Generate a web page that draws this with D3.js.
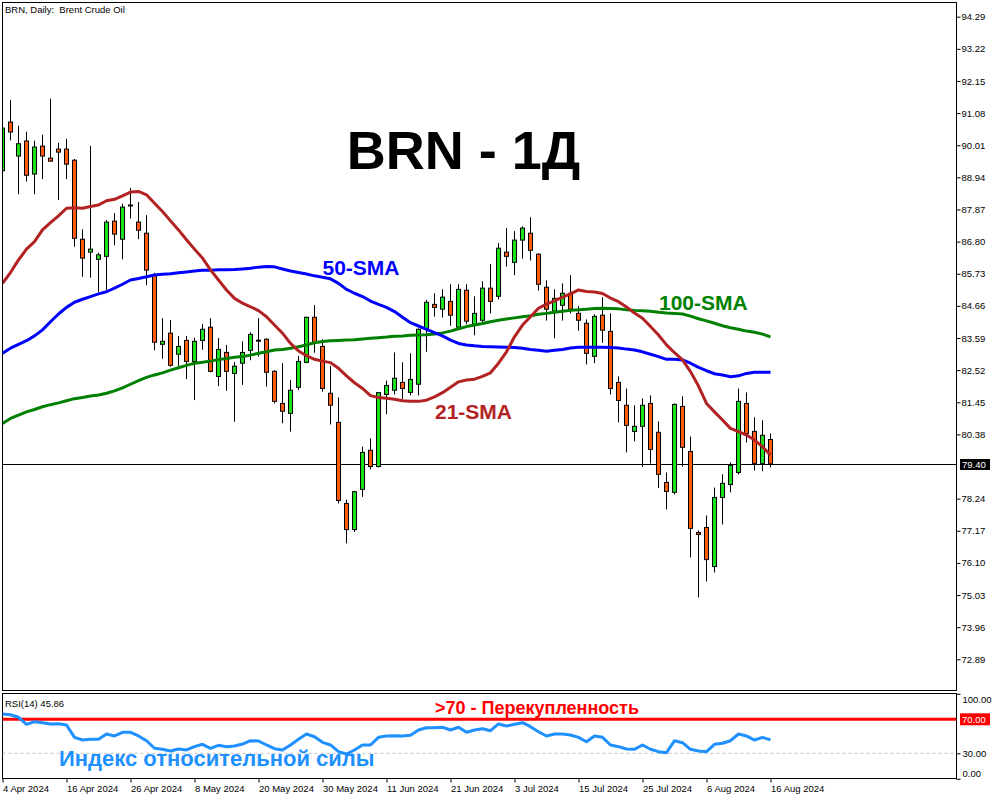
<!DOCTYPE html>
<html>
<head>
<meta charset="utf-8">
<script src="https://cdn.jsdelivr.net/npm/d3@7"></script>
<style>
  html, body { margin: 0; padding: 0; background: #fff; }
  svg { display: block; }
  text { font-family: "Liberation Sans", Arial, sans-serif; }
</style>
</head>
<body>
<svg id="chart" width="1000" height="800"></svg>
<script>
// ---- Daily Brent bars, 4 Apr 2024 .. 16 Aug 2024 (one entry per trading day) ----
const open = [
  89.16, 90.78, 89.65, 90.15, 89.05, 89.98, 89.58, 89.88, 89.88, 89.51,
  86.88, 86.45, 86.21, 86.31, 87.48, 86.88, 88.00, 87.45, 87.08, 85.68,
  83.38, 83.75, 83.05, 83.51, 82.81, 83.51, 83.95, 82.31, 83.11, 82.41,
  82.75, 83.18, 83.50, 83.55, 82.48, 81.41, 81.08, 81.95, 82.78, 84.28,
  83.31, 81.75, 80.78, 78.08, 77.21, 78.55, 79.85, 79.31, 81.71, 81.85,
  82.11, 81.78, 82.05, 83.91, 84.71, 84.55, 84.81, 83.95, 85.18, 84.01,
  84.18, 85.25, 84.98, 86.45, 86.11, 86.85, 87.08, 86.38, 85.28, 84.48,
  84.68, 85.08, 84.41, 84.08, 82.98, 84.35, 83.81, 82.11, 81.35, 80.48,
  80.65, 81.41, 80.45, 78.78, 78.45, 81.31, 79.81, 77.11, 77.28, 75.98,
  78.28, 78.71, 79.11, 81.41, 80.48, 79.41, 80.21
];
const high = [
  90.85, 91.52, 90.66, 90.46, 90.16, 90.36, 91.56, 90.09, 90.22, 89.55,
  87.21, 89.99, 86.43, 87.52, 87.75, 88.06, 88.58, 88.12, 87.68, 85.76,
  84.25, 84.19, 83.66, 83.66, 83.60, 84.06, 84.25, 83.59, 83.36, 82.79,
  83.48, 83.78, 84.25, 83.58, 82.52, 82.75, 82.19, 82.99, 84.30, 84.69,
  83.55, 82.66, 81.61, 78.21, 78.50, 79.97, 80.25, 81.78, 82.17, 83.11,
  82.78, 83.08, 83.91, 84.86, 85.08, 85.21, 85.38, 85.38, 85.38, 84.98,
  85.48, 86.05, 86.75, 87.25, 87.15, 87.31, 87.61, 86.41, 85.51, 85.21,
  85.41, 85.68, 84.65, 84.21, 84.38, 84.95, 84.41, 82.31, 81.91, 81.35,
  81.58, 81.68, 80.81, 79.11, 81.41, 81.65, 80.31, 77.18, 77.68, 78.61,
  79.05, 79.45, 81.91, 81.78, 80.95, 80.85, 80.41
];
const low = [
  88.95, 90.17, 88.38, 88.80, 88.38, 88.88, 89.48, 88.18, 88.88, 86.63,
  85.63, 85.60, 85.12, 85.19, 86.68, 86.21, 87.57, 86.88, 85.35, 83.18,
  82.90, 82.63, 82.66, 82.22, 81.52, 83.20, 82.45, 81.99, 81.83, 80.80,
  82.03, 82.85, 82.97, 81.97, 81.41, 80.75, 80.47, 81.86, 82.75, 83.10,
  81.80, 80.71, 78.08, 76.75, 77.13, 78.30, 79.21, 79.28, 81.05, 81.71,
  81.55, 81.68, 81.68, 83.13, 84.30, 84.27, 84.00, 83.91, 84.05, 83.68,
  84.08, 84.41, 84.88, 85.97, 85.68, 86.23, 86.17, 85.17, 84.17, 83.58,
  84.17, 84.41, 83.83, 82.71, 82.75, 83.43, 81.71, 80.78, 79.78, 80.15,
  79.30, 79.41, 78.59, 77.88, 78.38, 79.31, 76.28, 74.95, 75.48, 75.78,
  77.38, 78.45, 79.05, 80.11, 79.18, 79.15, 79.28
];
const close = [
  90.58, 90.45, 90.06, 89.01, 89.95, 89.65, 89.48, 89.78, 89.38, 86.91,
  86.25, 86.55, 86.36, 87.45, 87.05, 87.95, 88.00, 87.18, 85.85, 83.45,
  83.48, 82.68, 83.31, 82.81, 83.48, 83.88, 82.48, 83.21, 82.48, 82.65,
  83.11, 83.71, 83.50, 82.45, 81.48, 81.15, 81.85, 82.81, 84.28, 83.41,
  81.91, 81.35, 78.18, 77.21, 78.47, 79.78, 79.31, 81.77, 82.01, 82.25,
  81.91, 82.21, 83.88, 84.78, 84.61, 84.95, 84.35, 85.21, 84.15, 84.41,
  85.25, 84.81, 86.58, 86.31, 86.85, 87.25, 86.51, 85.38, 84.55, 84.91,
  85.08, 84.55, 84.18, 83.08, 84.31, 83.85, 81.91, 81.51, 80.68, 80.65,
  81.35, 79.88, 79.05, 78.48, 81.38, 79.95, 77.25, 77.05, 76.21, 78.28,
  78.75, 79.35, 81.48, 80.41, 79.41, 80.35, 79.40
];

// ---- Moving averages on the same bars ----
const sma21 = [
  85.41, 85.77, 86.19, 86.55, 86.80, 87.19, 87.43, 87.66, 87.91, 87.93,
  87.91, 87.97, 88.02, 88.16, 88.21, 88.32, 88.45, 88.47, 88.36, 88.08,
  87.80, 87.49, 87.19, 86.86, 86.55, 86.25, 85.86, 85.52, 85.19, 84.91,
  84.75, 84.63, 84.50, 84.30, 84.02, 83.75, 83.41, 83.16, 83.00, 82.88,
  82.82, 82.77, 82.58, 82.33, 82.10, 81.91, 81.67, 81.61, 81.58, 81.55,
  81.50, 81.48, 81.48, 81.52, 81.63, 81.77, 81.95, 82.13, 82.19, 82.22,
  82.31, 82.43, 82.75, 83.13, 83.63, 84.02, 84.30, 84.58, 84.72, 84.83,
  84.95, 85.06, 85.19, 85.14, 85.12, 85.07, 84.92, 84.80, 84.62, 84.42,
  84.25, 83.97, 83.69, 83.36, 83.10, 82.86, 82.47, 81.99, 81.41, 81.13,
  80.86, 80.58, 80.47, 80.36, 80.19, 79.97, 79.69
];
const sma50 = [
  83.08, 83.25, 83.38, 83.50, 83.66, 83.86, 84.13, 84.39, 84.61, 84.78,
  84.88, 84.97, 85.06, 85.13, 85.25, 85.38, 85.52, 85.57, 85.63, 85.69,
  85.71, 85.73, 85.76, 85.79, 85.82, 85.85, 85.85, 85.86, 85.86, 85.87,
  85.89, 85.91, 85.95, 85.97, 85.96, 85.89, 85.82, 85.77, 85.72, 85.66,
  85.61, 85.56, 85.41, 85.21, 85.08, 84.97, 84.82, 84.71, 84.61, 84.47,
  84.28, 84.10, 83.99, 83.88, 83.77, 83.66, 83.52, 83.41, 83.36, 83.33,
  83.31, 83.30, 83.29, 83.28, 83.27, 83.25, 83.21, 83.18, 83.15, 83.18,
  83.21, 83.26, 83.28, 83.28, 83.28, 83.28, 83.27, 83.26, 83.22, 83.19,
  83.13, 83.05, 82.97, 82.88, 82.88, 82.86, 82.75, 82.61, 82.50, 82.40,
  82.36, 82.30, 82.33, 82.41, 82.45, 82.45, 82.45
];
const sma100 = [
  80.74, 80.91, 81.02, 81.13, 81.21, 81.30, 81.37, 81.43, 81.50, 81.57,
  81.61, 81.66, 81.69, 81.75, 81.83, 81.93, 82.05, 82.17, 82.28, 82.36,
  82.43, 82.52, 82.60, 82.68, 82.75, 82.78, 82.82, 82.87, 82.91, 82.95,
  82.97, 83.02, 83.08, 83.13, 83.19, 83.21, 83.25, 83.30, 83.36, 83.43,
  83.47, 83.50, 83.51, 83.52, 83.53, 83.56, 83.58, 83.60, 83.62, 83.65,
  83.66, 83.68, 83.69, 83.70, 83.72, 83.76, 83.82, 83.90, 83.97, 84.02,
  84.07, 84.13, 84.18, 84.22, 84.26, 84.30, 84.33, 84.38, 84.41, 84.45,
  84.48, 84.51, 84.53, 84.55, 84.57, 84.58, 84.57, 84.56, 84.53, 84.51,
  84.50, 84.48, 84.45, 84.42, 84.41, 84.39, 84.32, 84.23, 84.16, 84.08,
  84.00, 83.93, 83.88, 83.82, 83.78, 83.72, 83.63
];

// ---- RSI(14) ----
const rsi14 = [
  76.2, 75.4, 72.4, 64.1, 67.2, 66.0, 64.5, 64.8, 63.3, 48.8,
  45.6, 46.5, 46.5, 52.7, 50.4, 54.7, 54.7, 50.4, 44.8, 35.9,
  34.7, 32.7, 35.1, 33.9, 37.8, 40.6, 35.9, 39.4, 37.8, 38.6,
  40.9, 44.8, 44.5, 39.8, 35.4, 33.9, 39.8, 46.5, 52.7, 49.5,
  42.9, 39.8, 31.9, 29.2, 33.9, 39.8, 39.8, 48.8, 50.4, 50.7,
  50.4, 51.2, 57.4, 60.1, 60.1, 60.6, 57.4, 60.6, 54.7, 57.4,
  58.9, 56.6, 64.5, 62.1, 64.1, 66.0, 61.3, 55.4, 50.4, 52.7,
  52.7, 51.5, 48.8, 43.6, 50.4, 48.8, 39.8, 37.8, 35.1, 34.7,
  39.8, 34.7, 31.9, 30.7, 44.8, 42.5, 34.7, 32.7, 31.9, 40.6,
  41.8, 44.8, 52.7, 50.4, 45.6, 48.8, 45.86
];
const rsiOverbought = 70;
const rsiOversold = 30;
const rsiTicks = [100, 30, 0];

// ---- Axis labels ----
const priceTicks = [94.29, 93.22, 92.15, 91.08, 90.01, 88.94, 87.87, 86.80, 85.73, 84.66,
                    83.59, 82.52, 81.45, 80.38, 78.24, 77.17, 76.10, 75.03, 73.96, 72.89];
const dateBars = [0, 8, 16, 24, 32, 40, 48, 56, 64, 72, 80, 88, 96];
const dateLabels = ["4 Apr 2024", "16 Apr 2024", "26 Apr 2024", "8 May 2024", "20 May 2024",
                    "30 May 2024", "11 Jun 2024", "21 Jun 2024", "3 Jul 2024", "15 Jul 2024",
                    "25 Jul 2024", "6 Aug 2024", "16 Aug 2024"];
const lastPrice = close[close.length - 1];

// ---- Layout ----
const L = 2.5, R = 956.5;
const mainTop = 2.5, mainBottom = 690.5;
const rsiTop = 693.5, rsiBottom = 778.5;
const UP = "#1ee01e", DOWN = "#ff5a0f";
const FS = "9.5px";

const svg = d3.select("#chart");

const x = d3.scaleLinear().domain([0, close.length - 1]).range([2.5, 2.5 + 8 * (close.length - 1)]);
const y = d3.scaleLinear().domain([72.89, 94.29]).range([659.3, 16.7]);
const yr = d3.scaleLinear().domain([0, 100]).range([778.8, 693.8]);

const defs = svg.append("defs");
defs.append("clipPath").attr("id", "clipMain")
  .append("rect").attr("x", L).attr("y", mainTop).attr("width", R - L).attr("height", mainBottom - mainTop);
defs.append("clipPath").attr("id", "clipRsi")
  .append("rect").attr("x", L).attr("y", rsiTop).attr("width", R - L).attr("height", rsiBottom - rsiTop);

// ---- Main price panel ----
const main = svg.append("g").attr("clip-path", "url(#clipMain)");

// last-price line
main.append("line")
  .attr("x1", L).attr("x2", R)
  .attr("y1", Math.round(y(lastPrice)) + 0.5).attr("y2", Math.round(y(lastPrice)) + 0.5)
  .attr("stroke", "#000").attr("stroke-width", 1);

const bars = d3.range(close.length);
const candles = main.append("g");
candles.selectAll("line.wick").data(bars).join("line")
  .attr("class", "wick")
  .attr("x1", i => x(i)).attr("x2", i => x(i))
  .attr("y1", i => y(high[i])).attr("y2", i => y(low[i]))
  .attr("stroke", "#000").attr("stroke-width", 1);

candles.selectAll("rect.body").data(bars.filter(i => open[i] !== close[i])).join("rect")
  .attr("class", "body")
  .attr("x", i => x(i) - 2).attr("width", 4)
  .attr("y", i => y(Math.max(open[i], close[i])))
  .attr("height", i => Math.max(1, Math.abs(y(open[i]) - y(close[i]))))
  .attr("fill", i => close[i] > open[i] ? UP : DOWN)
  .attr("stroke", "#000").attr("stroke-width", 1);

candles.selectAll("line.doji").data(bars.filter(i => open[i] === close[i])).join("line")
  .attr("class", "doji")
  .attr("x1", i => x(i) - 2.5).attr("x2", i => x(i) + 2.5)
  .attr("y1", i => y(close[i])).attr("y2", i => y(close[i]))
  .attr("stroke", "#000").attr("stroke-width", 2);

const maLine = arr => d3.line().x((d, i) => x(i)).y(d => y(d))(arr);
[[sma100, "#008000"], [sma50, "#0000ff"], [sma21, "#b22222"]].forEach(([arr, col]) => {
  main.append("path").attr("d", maLine(arr))
    .attr("fill", "none").attr("stroke", col).attr("stroke-width", 3)
    .attr("stroke-linejoin", "round");
});

// ---- Frames ----
svg.append("rect").attr("x", L).attr("y", mainTop).attr("width", R - L).attr("height", mainBottom - mainTop)
  .attr("fill", "none").attr("stroke", "#000").attr("stroke-width", 1);
svg.append("rect").attr("x", L).attr("y", rsiTop).attr("width", R - L).attr("height", rsiBottom - rsiTop)
  .attr("fill", "none").attr("stroke", "#000").attr("stroke-width", 1);

// ---- Price axis ----
const yAxis = svg.append("g").attr("transform", `translate(${R},0)`)
  .call(d3.axisRight(y).tickValues(priceTicks).tickSize(4).tickPadding(1).tickFormat(d3.format(".2f")));
yAxis.select(".domain").remove();
yAxis.selectAll("text").attr("font-size", FS).attr("font-family", "Liberation Sans, Arial, sans-serif").attr("fill", "#000");
yAxis.selectAll("line").attr("stroke", "#000");

// last-price tag
const lpY = Math.round(y(lastPrice)) + 0.5;
svg.append("rect").attr("x", 960).attr("y", lpY - 5.5).attr("width", 30).attr("height", 11).attr("fill", "#000");
svg.append("text").attr("x", 962).attr("y", lpY + 3.5)
  .attr("font-size", FS).attr("fill", "#fff").text(d3.format(".2f")(lastPrice));

// ---- RSI panel ----
const rsiG = svg.append("g").attr("clip-path", "url(#clipRsi)");
rsiG.append("line").attr("x1", L).attr("x2", R)
  .attr("y1", yr(rsiOversold)).attr("y2", yr(rsiOversold))
  .attr("stroke", "#c0c0c0").attr("stroke-width", 1).attr("stroke-dasharray", "3,3");
rsiG.append("line").attr("x1", L).attr("x2", R)
  .attr("y1", yr(rsiOverbought)).attr("y2", yr(rsiOverbought))
  .attr("stroke", "#ff0000").attr("stroke-width", 3);
rsiG.append("path")
  .attr("d", d3.line().x((d, i) => x(i)).y(d => yr(d))(rsi14))
  .attr("fill", "none").attr("stroke", "#1e90ff").attr("stroke-width", 3)
  .attr("stroke-linejoin", "round");

const rAxis = svg.append("g").attr("transform", `translate(${R},0)`)
  .call(d3.axisRight(yr).tickValues(rsiTicks).tickSize(4).tickPadding(2).tickFormat(d3.format(".2f")));
rAxis.select(".domain").remove();
rAxis.selectAll("line").attr("stroke", "#000");
rAxis.selectAll("text").attr("font-size", FS).attr("fill", "#000")
  .attr("dy", d => d === 100 ? "0.95em" : d === 0 ? "-0.25em" : "0.32em");

// overbought tag
svg.append("rect").attr("x", 960).attr("y", yr(rsiOverbought) - 6).attr("width", 30).attr("height", 12).attr("fill", "#ff0000");
svg.append("text").attr("x", 962).attr("y", yr(rsiOverbought) + 3.5)
  .attr("font-size", FS).attr("fill", "#fff").text(d3.format(".2f")(rsiOverbought));

svg.append("text").attr("x", 5).attr("y", 706.5).attr("font-size", FS).attr("fill", "#000")
  .text(`RSI(14) ${d3.format(".2f")(rsi14[rsi14.length - 1])}`);

// ---- Date axis ----
const xAxis = svg.append("g").attr("transform", `translate(0,${rsiBottom})`)
  .call(d3.axisBottom(x).tickValues(dateBars).tickSize(4).tickFormat((d, i) => dateLabels[i]));
xAxis.select(".domain").remove();
xAxis.selectAll("line").attr("stroke", "#000");
xAxis.selectAll("text").attr("font-size", FS).attr("fill", "#000")
  .attr("text-anchor", "start").attr("x", 0).attr("y", 6.5).attr("dy", "0.71em");

// ---- Titles and annotations ----
svg.append("text").attr("x", 5).attr("y", 12.5).attr("font-size", FS).attr("fill", "#000")
  .style("white-space", "pre").text("BRN, Daily:  Brent Crude Oil");

svg.append("text").attr("x", 463.5).attr("y", 169).attr("text-anchor", "middle")
  .attr("font-size", "54px").attr("font-weight", "bold").attr("fill", "#000").text("BRN - 1Д");

const note = (tx, ty, size, col, str) =>
  svg.append("text").attr("x", tx).attr("y", ty).attr("font-size", size)
    .attr("font-weight", "bold").attr("fill", col).text(str);
note(322.5, 275, "21px", "#0000ff", "50-SMA");
note(435, 418.5, "21px", "#b22222", "21-SMA");
note(659, 309.5, "21px", "#008000", "100-SMA");
note(435, 713.5, "18px", "#ff0000", ">70 - Перекупленность");
note(59, 766, "22px", "#1e90ff", "Индекс относительной силы");
</script>
</body>
</html>
